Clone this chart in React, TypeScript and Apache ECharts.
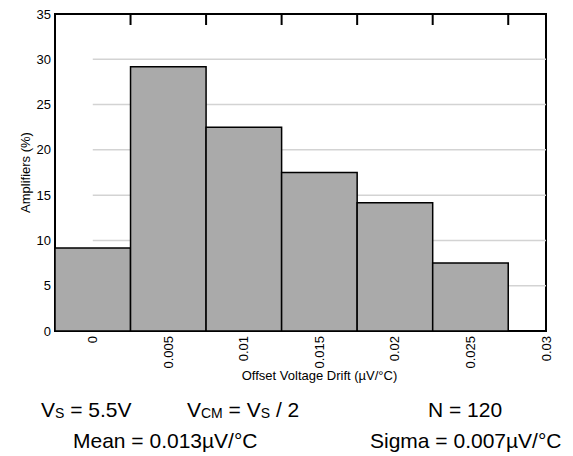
import React, { useEffect, useRef } from "react";
import * as echarts from "echarts";

// ---- data ----
const binCenters = [0, 0.005, 0.01, 0.015, 0.02, 0.025];
const amplifiersPct = [9.17, 29.17, 22.5, 17.5, 14.17, 7.5];
const binWidth = 0.005;
const xTickValues = [0, 0.005, 0.01, 0.015, 0.02, 0.025, 0.03];
const xTickLabels = ["0", "0.005", "0.01", "0.015", "0.02", "0.025", "0.03"];
const binEdges = [0.0025, 0.0075, 0.0125, 0.0175, 0.0225, 0.0275];
const gridValues = [5, 10, 15, 20, 25, 30];
const xMin = -0.0025;
const xMax = 0.03;
const yMin = 0;
const yMax = 35;
const yStep = 5;

const FONT = '"Liberation Sans", Arial, Helvetica, sans-serif';

export default function App() {
  const ref = useRef<HTMLDivElement>(null);

  useEffect(() => {
    if (!ref.current) return;
    const chart = echarts.init(ref.current, undefined, { renderer: "svg" });

    const big = { fontSize: 21, lineHeight: 21, fontFamily: FONT, color: "#000" };
    const sub = {
      fontSize: 14,
      lineHeight: 14,
      fontFamily: FONT,
      color: "#000",
      verticalAlign: "bottom",
    };
    const rich = { b: big, s: sub };
    const txt = (x: number, y: number, text: string) => ({
      type: "text",
      x,
      y,
      silent: true,
      style: {
        text,
        rich,
        fontSize: 21,
        fontFamily: FONT,
        fill: "#000",
        align: "left",
        verticalAlign: "middle",
      },
    });

    const option: any = {
      animation: false,
      textStyle: { fontFamily: FONT },
      grid: {
        left: 55,
        right: 27,
        top: 14,
        bottom: 125,
        show: true,
        borderColor: "#000",
        borderWidth: 2,
        backgroundColor: "transparent",
      },
      xAxis: {
        type: "value",
        min: xMin,
        max: xMax,
        position: "bottom",
        name: "Offset Voltage Drift (µV/°C)",
        nameLocation: "middle",
        nameGap: 38,
        nameMoveOverlap: false,
        nameTextStyle: {
          fontSize: 13,
          color: "#000",
          fontFamily: FONT,
          padding: [0, 0, 0, 38],
        },
        axisLine: { show: true, onZero: false, lineStyle: { color: "#000", width: 2 } },
        axisTick: { show: false },
        splitLine: { show: false },
        axisLabel: {
          customValues: xTickValues,
          rotate: 90,
          fontSize: 13,
          color: "#000",
          margin: 5,
          fontFamily: FONT,
          formatter: (v: number) => {
            let best = 0;
            for (let i = 0; i < xTickValues.length; i++) {
              if (Math.abs(xTickValues[i] - v) < Math.abs(xTickValues[best] - v)) best = i;
            }
            return xTickLabels[best];
          },
        },
      },
      yAxis: {
        type: "value",
        min: yMin,
        max: yMax,
        interval: yStep,
        name: "Amplifiers (%)",
        nameLocation: "middle",
        nameGap: 23,
        nameMoveOverlap: false,
        nameTextStyle: { fontSize: 13, color: "#000", fontFamily: FONT },
        axisLine: { show: true, onZero: false, lineStyle: { color: "#000", width: 2 } },
        axisTick: { show: false },
        splitLine: { show: false },
        axisLabel: { fontSize: 13, color: "#000", margin: 4, fontFamily: FONT },
      },
      series: [
        {
          type: "custom",
          name: "frame",
          z: 1,
          silent: true,
          clip: false,
          encode: { x: [0, 2], y: 1 },
          // kind 0: gridline [xStart, y, xEnd]; kind 1: top tick at bin edge [x, yMax, x]
          data: [
            ...gridValues.map((v) => [0, v, xMax, 0]),
            ...binEdges.map((e) => [e, yMax, e, 1]),
          ],
          renderItem: (params: any, api: any) => {
            const kind = api.value(3);
            const p0 = api.coord([api.value(0), api.value(1)]);
            if (kind === 1) {
              return {
                type: "rect",
                z2: 100,
                shape: { x: p0[0] - 1, y: p0[1], width: 2, height: 11 },
                style: { fill: "#000" },
              };
            }
            const p1 = api.coord([api.value(2), api.value(1)]);
            return {
              type: "line",
              shape: { x1: p0[0], y1: p0[1], x2: p1[0], y2: p1[1] },
              style: { stroke: "#d3d3d3", lineWidth: 1.5 },
            };
          },
        },
        {
          type: "custom",
          name: "Amplifiers",
          z: 2,
          clip: false,
          encode: { x: 0, y: 1 },
          data: binCenters.map((c, i) => [c, amplifiersPct[i]]),
          renderItem: (params: any, api: any) => {
            const c = api.value(0);
            const v = api.value(1);
            const p0 = api.coord([c - binWidth / 2, v]);
            const p1 = api.coord([c + binWidth / 2, 0]);
            return {
              type: "rect",
              shape: { x: p0[0], y: p0[1], width: p1[0] - p0[0], height: p1[1] - p0[1] },
              style: { fill: "#aaaaaa", stroke: "#000", lineWidth: 1.5 },
            };
          },
        },
      ],
      graphic: [
        txt(41, 409, "{b|V}{s|S}{b| = 5.5V}"),
        txt(187, 409, "{b|V}{s|CM}{b| = V}{s|S}{b| / 2}"),
        txt(428, 409, "{b|N = 120}"),
        txt(73, 440, "{b|Mean = 0.013µV/°C}"),
        txt(370, 440, "{b|Sigma = 0.007µV/°C}"),
      ],
    };

    chart.setOption(option);
    return () => chart.dispose();
  }, []);

  return (
    <div
      ref={ref}
      style={{ position: "absolute", left: 0, top: 0, width: 573, height: 456 }}
    />
  );
}
